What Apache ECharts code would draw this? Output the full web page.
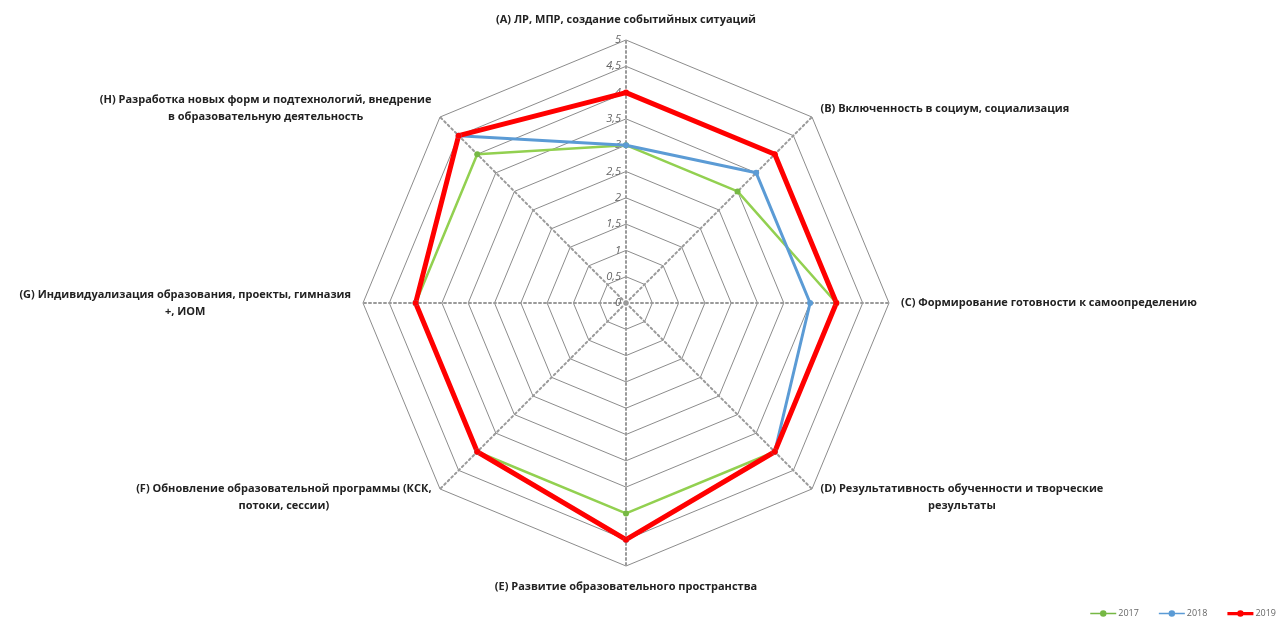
<!DOCTYPE html>
<html><head><meta charset="utf-8">
<script src="https://cdn.jsdelivr.net/npm/echarts@6/dist/echarts.min.js"></script>
<style>html,body{margin:0;padding:0;background:#fff}#c{width:1281px;height:619px}</style>
</head><body><div id="c"></div>
<script>
const categories = [
  "(A) ЛР, МПР, создание событийных ситуаций",
  "(B) Включенность в социум, социализация",
  "(C) Формирование готовности к самоопределению",
  "(D) Результативность обученности и творческие\nрезультаты",
  "(E) Развитие образовательного пространства",
  "(F) Обновление образовательной программы (КСК,\nпотоки, сессии)",
  "(G) Индивидуализация образования, проекты, гимназия\n+, ИОМ",
  "(H) Разработка новых форм и подтехнологий, внедрение\nв образовательную деятельность"
];
const seriesNames = ["2017", "2018", "2019"];
const values2017 = [3, 3, 4, 4, 4, 4, 4, 4];
const values2018 = [3, 3.5, 3.5, 4, 4.5, 4, 4, 4.5];
const values2019 = [4, 4, 4, 4, 4.5, 4, 4, 4.5];
const axisMin = 0, axisMax = 5, axisSplits = 10;

// ECharts places indicators counter-clockwise; reorder for clockwise layout
const order = [0, 7, 6, 5, 4, 3, 2, 1];
const reorder = arr => order.map(i => arr[i]);

const indicators = reorder(categories).map((name, k) => {
  const ind = {
    name: name.split('\n').map(s => '{c|' + s + '}').join('\n'),
    min: axisMin, max: axisMax
  };
  if (k === 0) {
    ind.axisLabel = {
      show: true, color: '#666', fontStyle: 'italic', fontSize: 11,
      fontFamily: 'Open Sans', margin: 5,
      formatter: v => String(v).replace('.', ',')
    };
  }
  return ind;
});

const iconThin = 'path://M0,4H12.5V6H0Z M19.5,4H32V6H19.5Z M12,5A4,4 0 1,1 20,5A4,4 0 1,1 12,5Z';
const iconThick = 'path://M0,3H12.5V7H0Z M19.5,3H32V7H19.5Z M12,5A4,4 0 1,1 20,5A4,4 0 1,1 12,5Z';

const chart = echarts.init(document.getElementById('c'));
chart.setOption({
  animation: false,
  backgroundColor: '#fff',
  legend: {
    data: [
      { name: seriesNames[0], icon: iconThin },
      { name: seriesNames[1], icon: iconThin },
      { name: seriesNames[2], icon: iconThick }
    ],
    right: 0, bottom: -4,
    itemWidth: 26, itemHeight: 8, itemGap: 20,
    textStyle: { fontSize: 9, color: '#666', fontFamily: 'Open Sans', padding: [0,0,0,-3] }
  },
  radar: {
    center: [626, 303],
    radius: 263,
    shape: 'polygon',
    splitNumber: axisSplits,
    indicator: indicators,
    nameGap: 12,
    axisName: {
      color: '#222', fontSize: 11, fontWeight: 'bold', fontFamily: 'Open Sans',
      lineHeight: 17,
      rich: { c: { align: 'center', color: '#222', fontSize: 11, fontWeight: 'bold', fontFamily: 'Open Sans', lineHeight: 17 } }
    },
    axisLine: { lineStyle: { color: '#9a9a9a', type: [2, 3], width: 2 } },
    splitLine: { lineStyle: { color: '#8c8c8c', width: 1 } },
    splitArea: { show: false },
    axisLabel: { show: false },
    axisTick: { show: false }
  },
  series: [{
    type: 'radar',
    z: 2,
    data: [
      { name: seriesNames[0], value: reorder(values2017), symbol: 'circle', symbolSize: 6,
        lineStyle: { color: '#92d050', width: 2.5 }, itemStyle: { color: '#76b844' } },
      { name: seriesNames[1], value: reorder(values2018), symbol: 'circle', symbolSize: 6,
        lineStyle: { color: '#5b9bd5', width: 3 }, itemStyle: { color: '#5b9bd5' } },
      { name: seriesNames[2], value: reorder(values2019), symbol: 'circle', symbolSize: 6,
        lineStyle: { color: '#ff0000', width: 5 }, itemStyle: { color: '#ff0000' } }
    ]
  }],
  color: ['#92d050', '#5b9bd5', '#ff0000']
});
</script></body></html>
